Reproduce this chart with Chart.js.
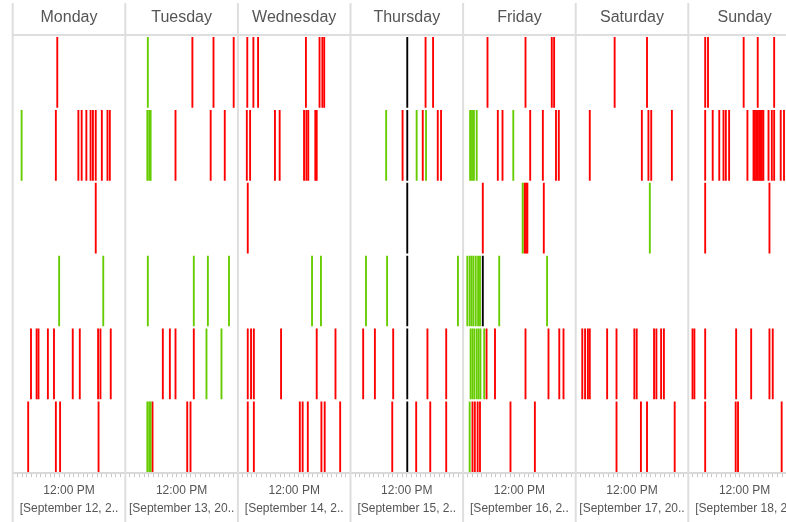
<!DOCTYPE html>
<html>
<head>
<meta charset="utf-8">
<script src="https://cdn.jsdelivr.net/npm/chart.js@4/dist/chart.umd.min.js"></script>
<style>
  html, body { margin: 0; padding: 0; background: #fff; overflow: hidden; }
  #wrap { position: relative; width: 816px; height: 522px; }
</style>
</head>
<body>
<div id="wrap"><canvas id="chart"></canvas></div>
<script>
// Panels and axis labels
const days = ['Monday', 'Tuesday', 'Wednesday', 'Thursday', 'Friday', 'Saturday', 'Sunday'];
const dateLabels = [
    '[September 12, 2..', '[September 13, 20..', '[September 14, 2..', '[September 15, 2..',
    '[September 16, 2..', '[September 17, 20..', '[September 18, 2..'
];
const rows = ['1', '2', '3', '4', '5', '6'];

// Events: [day index, row index, [hour of day, ...]]
const redEvents = [
    [0, 0, [9.5]],
    [0, 1, [9.2, 14.0, 14.7, 15.7, 16.6, 17.1, 17.7, 19.0, 20.2, 20.7]],
    [0, 2, [17.7]],
    [0, 4, [3.9, 5.1, 5.5, 7.5, 8.8, 12.8, 14.3, 18.2, 18.7, 20.9]],
    [0, 5, [3.3, 9.2, 10.1, 18.3]],

    [1, 0, [14.3, 18.8, 23.1]],
    [1, 1, [10.7, 18.2, 21.2]],
    [1, 4, [8.0, 9.5, 10.7, 14.6]],
    [1, 5, [5.8, 13.2, 13.9]],

    [2, 0, [2.0, 3.3, 4.3, 14.5, 17.4, 18.0, 18.4]],
    [2, 1, [1.9, 2.6, 7.9, 8.9, 14.1, 14.6, 15.0, 16.5, 16.8]],
    [2, 2, [2.1]],
    [2, 4, [2.1, 2.8, 3.4, 9.2, 16.8, 20.8]],
    [2, 5, [2.1, 3.4, 13.2, 13.8, 14.9, 17.8, 18.5, 21.8]],

    [3, 0, [16.0, 17.6]],
    [3, 1, [11.1, 15.4, 18.6, 19.3]],
    [3, 4, [2.7, 5.2, 9.1, 16.4, 20.4]],
    [3, 5, [8.9, 14.0, 17.0, 20.4]],

    [4, 0, [5.2, 13.3, 18.9, 19.4]],
    [4, 1, [7.4, 8.4, 14.3, 17.0, 19.8, 20.4]],
    [4, 2, [4.2, 13.1, 13.4, 13.7, 17.2]],
    [4, 4, [5.0, 6.8, 13.3, 18.2, 20.5, 21.4]],
    [4, 5, [2.0, 2.5, 3.1, 3.6, 10.1, 15.3]],

    [5, 0, [8.3, 15.2]],
    [5, 1, [3.0, 14.1, 15.5, 16.1, 20.5]],
    [5, 4, [1.4, 2.0, 2.6, 3.0, 6.7, 8.7, 12.5, 13.0, 16.7, 17.2, 18.2, 18.8]],
    [5, 5, [8.7, 13.9, 15.2, 21.1]],

    [6, 0, [3.6, 4.2, 11.8, 14.8, 18.3]],
    [6, 1, [3.6, 5.2, 6.6, 7.5, 8.0, 8.7, 12.6, 13.9, 14.2, 14.5, 14.8, 15.1, 15.4, 15.7, 16.0, 17.1, 17.8, 18.3, 19.7, 20.4]],
    [6, 2, [3.6, 17.3]],
    [6, 4, [0.9, 1.3, 3.6, 10.2, 13.4, 17.3, 18.0]],
    [6, 5, [3.6, 10.1, 10.6, 19.9]]
];

const greenEvents = [
    [0, 1, [1.9]],
    [0, 3, [9.9, 19.3]],

    [1, 0, [4.8]],
    [1, 1, [4.7, 5.1, 5.4]],
    [1, 3, [4.8, 14.6, 17.6, 22.1]],
    [1, 4, [17.3, 20.5]],
    [1, 5, [4.7, 5.1, 5.4]],

    [2, 3, [15.8, 17.7]],

    [3, 1, [7.6, 14.1, 16.1]],
    [3, 3, [3.3, 7.8, 22.9]],

    [4, 1, [1.5, 1.9, 2.3, 2.9, 10.7]],
    [4, 2, [12.7]],
    [4, 3, [0.9, 1.4, 1.8, 2.2, 2.7, 3.2, 3.6, 7.7, 17.9]],
    [4, 4, [1.6, 2.0, 2.4, 2.9, 3.3, 3.7, 4.5]],
    [4, 5, [1.4]],

    [5, 2, [15.8]]
];

const blackEvents = [
    [3, 0, [12.1]], [3, 1, [12.1]], [3, 2, [12.1]],
    [3, 3, [12.1]], [3, 4, [12.1]], [3, 5, [12.1]],
    [4, 3, [4.2]]
];

const markHours = 0.4; // width of one event mark, in hours

function toBars(events) {
    const out = [];
    events.forEach(([day, row, hours]) => {
        hours.forEach(h => {
            const t = day * 24 + h;
            out.push({ x: [t - markHours / 2, t + markHours / 2], y: rows[row] });
        });
    });
    return out;
}

const hourTicks = [];
for (let h = 0; h <= days.length * 24; h++) hourTicks.push(h);

const FONT = '"Liberation Sans", Arial, sans-serif';

// Day headers and full-height panel separators
const panelPlugin = {
    id: 'panels',
    beforeDatasetsDraw(chart) {
        const { ctx, chartArea, scales: { x } } = chart;
        ctx.save();
        ctx.strokeStyle = '#dedede';
        ctx.lineWidth = 2;
        ctx.beginPath();
        ctx.moveTo(chartArea.left, chartArea.top - 1);
        ctx.lineTo(chartArea.right, chartArea.top - 1);
        ctx.stroke();
        for (let d = 0; d <= days.length; d++) {
            const px = x.getPixelForValue(d * 24);
            ctx.beginPath();
            ctx.moveTo(px, 3);
            ctx.lineTo(px, chart.height);
            ctx.stroke();
        }
        ctx.fillStyle = '#555';
        ctx.font = '16px ' + FONT;
        ctx.textAlign = 'center';
        ctx.textBaseline = 'middle';
        days.forEach((name, i) => ctx.fillText(name, x.getPixelForValue(i * 24 + 12), 18));
        ctx.restore();
    }
};

new Chart(document.getElementById('chart'), {
    type: 'bar',
    data: {
        datasets: [
            { data: toBars(greenEvents), backgroundColor: '#66cc00' },
            { data: toBars(redEvents), backgroundColor: '#ff0000' },
            { data: toBars(blackEvents), backgroundColor: '#000000' }
        ]
    },
    options: {
        indexAxis: 'y',
        responsive: true,
        maintainAspectRatio: false,
        animation: false,
        grouped: false,
        barPercentage: 0.97,
        categoryPercentage: 1,
        layout: { padding: { top: 36, left: 12.7, right: 15.1, bottom: 0 } },
        plugins: { legend: { display: false }, tooltip: { enabled: false } },
        scales: {
            y: {
                type: 'category',
                labels: rows,
                display: false
            },
            x: {
                type: 'linear',
                min: 0,
                max: days.length * 24,
                afterBuildTicks: scale => { scale.ticks = hourTicks.map(v => ({ value: v })); },
                grid: {
                    drawOnChartArea: false,
                    tickLength: 4,
                    tickColor: '#c8c8c8'
                },
                border: { display: true, color: '#d9d9d9', width: 2 },
                ticks: {
                    autoSkip: false,
                    maxRotation: 0,
                    minRotation: 0,
                    padding: 5,
                    color: '#555',
                    font: { family: FONT, size: 12, lineHeight: 1.45 },
                    callback: v => (v % 24 === 12 ? ['12:00 PM', dateLabels[(v - 12) / 24]] : '')
                }
            }
        }
    },
    plugins: [panelPlugin]
});
</script>
</body>
</html>
